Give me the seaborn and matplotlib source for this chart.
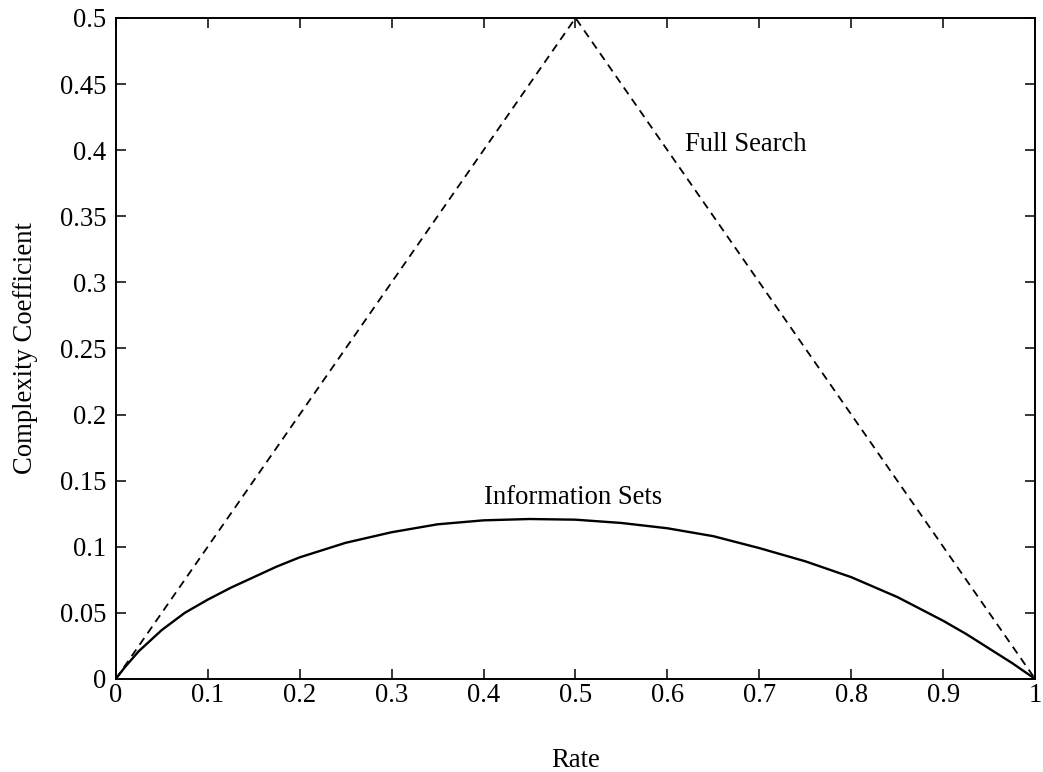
import matplotlib
matplotlib.use("Agg")
import matplotlib.pyplot as plt
import seaborn as sns
import pandas as pd

# Full search complexity coefficient versus code rate
rate_full = [0.0, 0.5, 1.0]
coef_full = [0.0, 0.5, 0.0]

# Information-set decoding complexity coefficient versus code rate
rate_info = [0.0, 0.01, 0.025, 0.05, 0.075, 0.1, 0.125, 0.15, 0.175, 0.2, 0.25, 0.3,
             0.35, 0.4, 0.45, 0.5, 0.55, 0.6, 0.65, 0.7, 0.75, 0.8, 0.85, 0.9,
             0.925, 0.95, 0.975, 1.0]
coef_info = [0.0, 0.009, 0.021, 0.037, 0.050, 0.060, 0.069, 0.077, 0.085, 0.092,
             0.103, 0.111, 0.117, 0.120, 0.121, 0.1205, 0.118, 0.114, 0.108,
             0.099, 0.089, 0.077, 0.062, 0.044, 0.034, 0.023, 0.012, 0.0]

x_ticks = [0, 0.1, 0.2, 0.3, 0.4, 0.5, 0.6, 0.7, 0.8, 0.9, 1]
x_tick_labels = ["0", "0.1", "0.2", "0.3", "0.4", "0.5", "0.6", "0.7", "0.8", "0.9", "1"]
y_ticks = [0, 0.05, 0.1, 0.15, 0.2, 0.25, 0.3, 0.35, 0.4, 0.45, 0.5]
y_tick_labels = ["0", "0.05", "0.1", "0.15", "0.2", "0.25", "0.3", "0.35", "0.4", "0.45", "0.5"]

sns.set_theme(style="ticks")
plt.rcParams["font.family"] = ["Liberation Serif", "DejaVu Serif"]
plt.rcParams["text.color"] = "black"
plt.rcParams["axes.labelcolor"] = "black"

full_df = pd.DataFrame({"Rate": rate_full, "Coef": coef_full})
info_df = pd.DataFrame({"Rate": rate_info, "Coef": coef_info})

FS = 19.2

fig = plt.figure(figsize=(10.43, 7.72), dpi=100)
ax = fig.add_axes([0.111, 0.1205, 0.8815, 0.8562])

sns.lineplot(data=full_df, x="Rate", y="Coef", ax=ax, color="black",
             linewidth=1.3, linestyle=(0, (4.5, 3.2)))
sns.lineplot(data=info_df, x="Rate", y="Coef", ax=ax, color="black",
             linewidth=1.7)

ax.set_xlim(0, 1)
ax.set_ylim(0, 0.5)
ax.set_xticks(x_ticks)
ax.set_xticklabels(x_tick_labels)
ax.set_yticks(y_ticks)
ax.set_yticklabels(y_tick_labels)

ax.tick_params(direction="in", length=7.5, width=1.1, top=True, right=True,
               labelsize=FS, colors="black")
ax.tick_params(axis="x", pad=3)
ax.tick_params(axis="y", pad=7)
for side in ax.spines.values():
    side.set_visible(True)
    side.set_linewidth(1.4)
    side.set_color("black")

ax.set_xlabel("Rate", fontsize=FS, labelpad=28.5, color="black")
ax.set_ylabel("Complexity Coefficient", fontsize=FS, labelpad=15.5, color="black")

ax.text(0.619, 0.404, "Full Search", fontsize=FS, ha="left", va="center",
        color="black")
ax.text(0.497, 0.137, "Information Sets", fontsize=FS, ha="center", va="center",
        color="black")

fig.savefig("out.png", dpi=100)
